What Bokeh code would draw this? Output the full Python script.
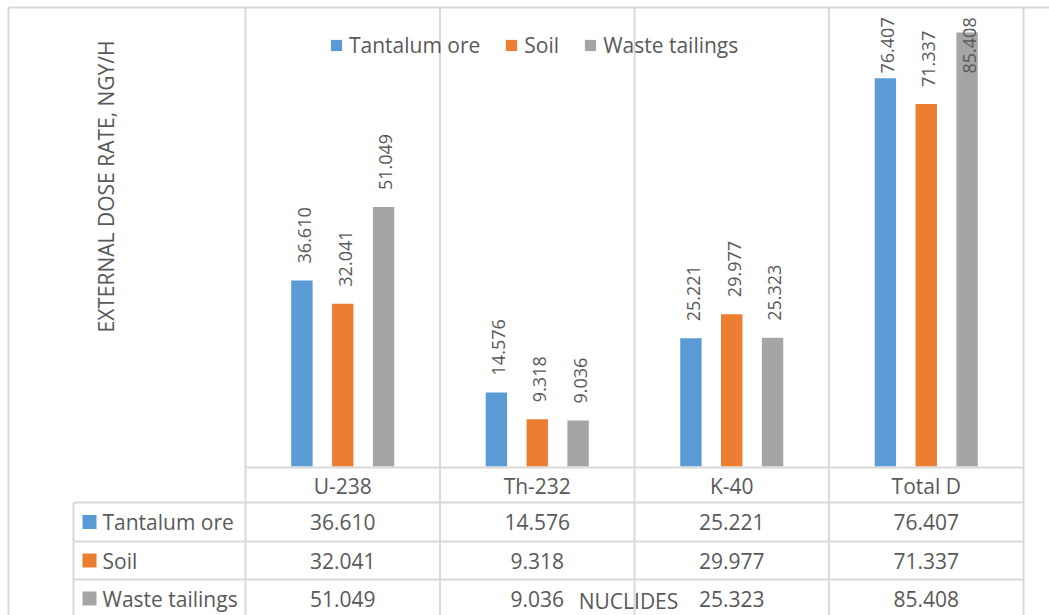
import numpy as np
from bokeh.plotting import figure
from bokeh.models import ColumnDataSource, Range1d, Legend, LegendItem
from bokeh.core.properties import value
from bokeh.transform import dodge
from bokeh.embed import file_html
from bokeh.resources import INLINE

# ---- data ----
categories = ["U-238", "Th-232", "K-40", "Total D"]
series_names = ["Tantalum ore", "Soil", "Waste tailings"]
tantalum_ore = [36.610, 14.576, 25.221, 76.407]
soil = [32.041, 9.318, 29.977, 71.337]
waste_tailings = [51.049, 9.036, 25.323, 85.408]
colors = ["#5B9BD5", "#ED7D31", "#A5A5A5"]
y_title = "EXTERNAL DOSE RATE, NGY/H"
x_title = "NUCLIDES"

# ---- layout constants (pixels in figure space) ----
W, H = 1049, 615
BASE = 466            # y=0 baseline, px from figure top
PLOT_LEFT = 245       # left edge of plot area, px
CAT_W = 194.5         # width of a category, px
Y_TOP = 91.7
PX = BASE / Y_TOP     # px per data unit
GRID = "#D9D9D9"
TXT = "#595959"
FONT = value("Open Sans")
FS = "21px"

p = figure(width=W, height=H,
           x_range=Range1d(-PLOT_LEFT / CAT_W, (W - PLOT_LEFT) / CAT_W),
           y_range=Range1d(-(H - BASE) / PX, Y_TOP),
           x_axis_location=None, y_axis_location=None,
           output_backend="svg", toolbar_location=None, min_border=0)
p.extra_x_ranges = {"px": Range1d(0, W)}
p.extra_y_ranges = {"px": Range1d(H, 0)}
p.grid.visible = False
p.outline_line_color = None
p.background_fill_color = "white"
p.border_fill_color = "white"

n = len(categories)
right_px = PLOT_LEFT + n * CAT_W

# ---- bars ----
series = [tantalum_ore, soil, waste_tailings]
keys = ["s0", "s1", "s2"]
offsets = [-0.21, 0.0, 0.21]
data = dict(x=[i + 0.5 for i in range(n)], cat=categories)
pad = 17 / PX
cap = (BASE - 73) / PX
for k, vals in zip(keys, series):
    arr = np.array(vals)
    data[k] = vals
    data[k + "_lab"] = ["%.3f" % v for v in vals]
    data[k + "_ly"] = np.minimum(arr + pad, cap)
src = ColumnDataSource(data)

renderers = []
for k, off, col in zip(keys, offsets, colors):
    r = p.vbar(x=dodge("x", off, range=p.x_range), top=k, bottom=0, width=0.11,
               source=src, fill_color=col, line_color=None)
    renderers.append(r)
    p.text(x=dodge("x", off + 0.012, range=p.x_range), y=k + "_ly", text=k + "_lab",
           source=src, angle=np.pi / 2, text_align="left", text_baseline="middle",
           text_font=FONT, text_font_size="18px", text_color=TXT)

# ---- grid / frame lines ----
bounds = list(range(n + 1))
p.segment(x0=bounds, x1=bounds, y0=7, y1=H, y_range_name="px",
          line_color=GRID, line_width=2)
p.segment(x0=[0], x1=[n], y0=[BASE + 1], y1=[BASE + 1], y_range_name="px",
          line_color=GRID, line_width=2)
row_lines = [502, 541, 579]
p.segment(x0=[73] * 3, x1=[right_px] * 3, y0=row_lines, y1=row_lines,
          x_range_name="px", y_range_name="px", line_color=GRID, line_width=2)
p.segment(x0=[73], x1=[73], y0=[502], y1=[H], x_range_name="px", y_range_name="px",
          line_color=GRID, line_width=2)
# outer chart border (left and top)
p.segment(x0=[8, 8], x1=[8, W], y0=[7, 7], y1=[H, 7], x_range_name="px",
          y_range_name="px", line_color=GRID, line_width=2)

# ---- category row ----
cat_src = ColumnDataSource(dict(x=[i + 0.5 for i in range(n)], cat=categories,
                                y=[485] * n))
p.text(x="x", y="y", text="cat", source=cat_src, y_range_name="px",
       text_align="center", text_baseline="middle", text_font=FONT,
       text_font_size=FS, text_color=TXT)

# ---- data table ----
row_y = [521.5, 560, 598]
for k, name, col, ry in zip(keys, series_names, colors, row_y):
    tsrc = ColumnDataSource(dict(x=[i + 0.5 for i in range(n)], t=data[k + "_lab"],
                                 y=[ry] * n))
    p.text(x="x", y="y", text="t", source=tsrc, y_range_name="px",
           text_align="center", text_baseline="middle", text_font=FONT,
           text_font_size=FS, text_color=TXT)
    p.rect(x=[89], y=[ry], width=14, height=14, x_range_name="px", y_range_name="px",
           fill_color=col, line_color=None)
    p.text(x=[102], y=[ry], text=[name], x_range_name="px", y_range_name="px",
           text_align="left", text_baseline="middle", text_font=FONT,
           text_font_size=FS, text_color=TXT)

# ---- axis titles ----
p.text(x=[105.5], y=[186], text=[y_title], x_range_name="px", y_range_name="px",
       angle=np.pi / 2, text_align="center", text_baseline="middle", text_font=FONT,
       text_font_size=FS, text_color=TXT)
p.text(x=[628], y=[600], text=[x_title], x_range_name="px", y_range_name="px",
       text_align="center", text_baseline="middle", text_font=FONT,
       text_font_size=FS, text_color=TXT)

# ---- legend ----
legend = Legend(items=[LegendItem(label=nm, renderers=[r]) for nm, r in zip(series_names, renderers)],
                orientation="horizontal", location=(329, 556), glyph_width=14, glyph_height=14,
                label_standoff=6, spacing=24, padding=0, margin=0,
                border_line_color=None, background_fill_alpha=0,
                label_text_font="Open Sans", label_text_font_size=FS, label_text_color=TXT,
                label_height=14)
p.add_layout(legend, "center")

open("out.html", "w").write(file_html(p, INLINE))
